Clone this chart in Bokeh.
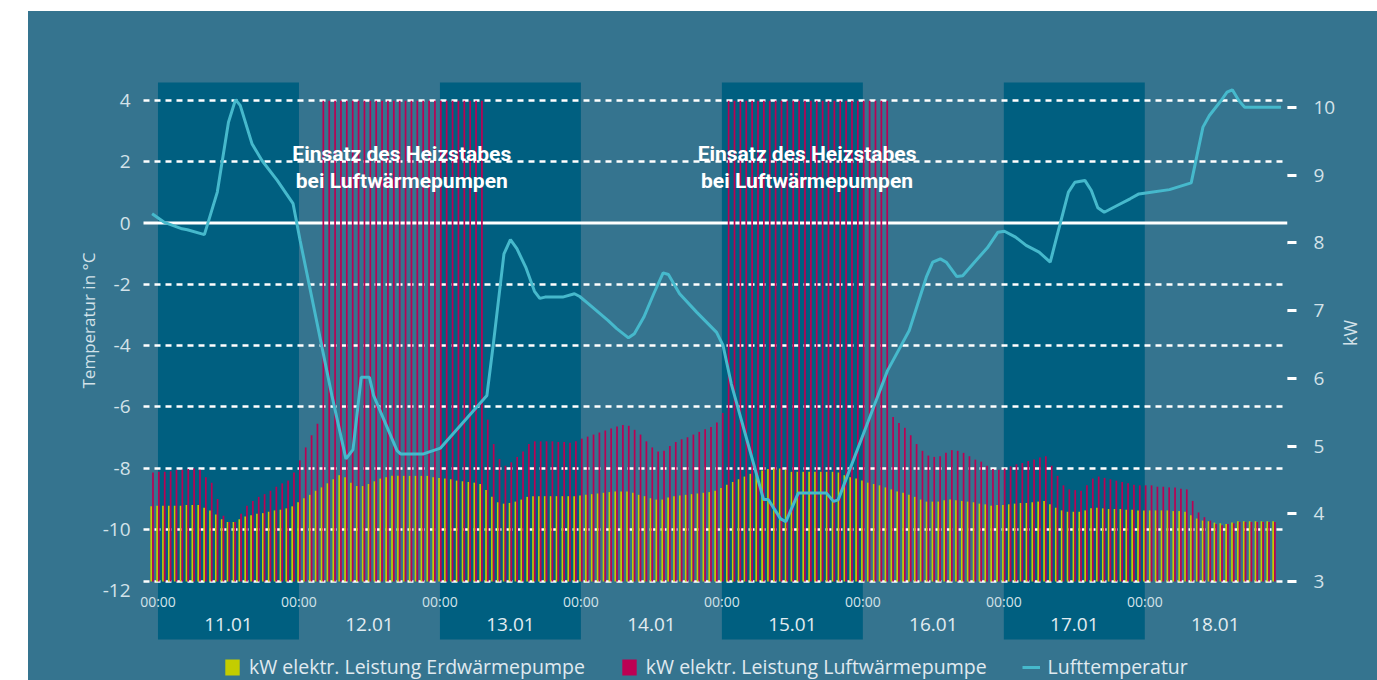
import math
from bokeh.plotting import figure
from bokeh.models import (Range1d, LinearAxis, FixedTicker, LabelSet, Title,
                          BoxAnnotation, ColumnDataSource, Legend, LegendItem)
from bokeh.core.properties import value
from bokeh.embed import file_html
from bokeh.resources import INLINE

# ---------------- data ----------------
days = ["11.01", "12.01", "13.01", "14.01", "15.01", "16.01", "17.01", "18.01"]
dark_days = ["11.01", "13.01", "15.01", "17.01"]
midnight_label = "00:00"
temp_ticks = [-12, -10, -8, -6, -4, -2, 0, 2, 4]
kw_ticks = [3, 4, 5, 6, 7, 8, 9, 10]
annotation_lines = ["Einsatz des Heizstabes", "bei Luftwärmepumpen"]

# hourly values, hour 0 = 11.01 00:00 (first bar 10.01 23:00)
hours = list(range(-1, 191))

erd_kw = [
    4.11, 4.12, 4.12, 4.12, 4.12, 4.12, 4.13, 4.13, 4.13,
    4.09, 4.05, 3.99, 3.92, 3.88, 3.88, 3.92, 3.96, 3.98, 4.00, 4.01, 4.03, 4.05, 4.06, 4.08,
    4.11, 4.17, 4.23, 4.28, 4.34, 4.39, 4.45, 4.51, 4.57, 4.54, 4.46, 4.41, 4.41, 4.44, 4.48,
    4.52, 4.54, 4.56, 4.56, 4.56, 4.56, 4.56, 4.56, 4.56,
    4.54, 4.53, 4.52, 4.51, 4.49, 4.48, 4.47, 4.46, 4.44, 4.35, 4.25, 4.17, 4.15, 4.16, 4.18,
    4.21, 4.25, 4.26, 4.26, 4.26, 4.26, 4.26, 4.26, 4.26, 4.26, 4.27, 4.28, 4.29, 4.30, 4.31,
    4.32, 4.33, 4.33, 4.33, 4.31, 4.28, 4.26, 4.23, 4.21, 4.21, 4.24, 4.26, 4.27, 4.28, 4.29, 4.30,
    4.31, 4.32, 4.34, 4.38, 4.43, 4.47, 4.51, 4.55, 4.59, 4.62, 4.64, 4.66, 4.67, 4.67, 4.65,
    4.62, 4.62, 4.62, 4.62, 4.62, 4.62, 4.62, 4.62, 4.61, 4.57, 4.54, 4.52, 4.49, 4.46, 4.44,
    4.42, 4.39, 4.36, 4.33, 4.31, 4.28, 4.25, 4.21, 4.18, 4.18, 4.18, 4.20, 4.21, 4.20, 4.19,
    4.18, 4.17, 4.15, 4.14,
    4.12, 4.13, 4.13, 4.14, 4.15, 4.16, 4.16, 4.17, 4.18, 4.19, 4.14, 4.09, 4.05, 4.03, 4.03,
    4.03, 4.05, 4.08, 4.09, 4.08, 4.07, 4.07, 4.07, 4.06, 4.06, 4.05, 4.05, 4.05, 4.05, 4.05,
    4.05, 4.04, 4.04, 4.03, 3.98, 3.93, 3.90, 3.89, 3.87, 3.86, 3.85, 3.87, 3.89,
    3.89, 3.89, 3.89, 3.89, 3.89, 3.89,
]

luft_kw = [
    4.61, 4.62, 4.62, 4.63, 4.65, 4.65, 4.66, 4.67, 4.65, 4.54, 4.46, 4.22, 3.97, 3.88, 3.88,
    4.00, 4.12, 4.19, 4.25, 4.29, 4.34, 4.40, 4.45, 4.49, 4.61, 4.79, 4.98, 5.16, 5.33,
    10.1, 10.1, 10.1, 10.1, 10.1, 10.1, 10.1, 10.1, 10.1, 10.1, 10.1, 10.1, 10.1, 10.1,
    10.1, 10.1, 10.1, 10.1, 10.1, 10.1, 10.1, 10.1, 10.1, 10.1, 10.1, 10.1, 10.1, 10.1,
    5.39, 5.03, 4.81, 4.71, 4.76, 4.84, 4.92, 5.03, 5.07, 5.07, 5.07, 5.07, 5.06, 5.06, 5.05,
    5.07, 5.11, 5.14, 5.17, 5.20, 5.23, 5.26, 5.29, 5.31, 5.30, 5.24, 5.17, 5.07, 4.98, 4.92,
    4.93, 5.00, 5.06, 5.10, 5.13, 5.17, 5.21, 5.25, 5.28, 5.35, 5.49,
    10.1, 10.1, 10.1, 10.1, 10.1, 10.1, 10.1, 10.1, 10.1, 10.1, 10.1, 10.1, 10.1, 10.1,
    10.1, 10.1, 10.1, 10.1, 10.1, 10.1, 10.1, 10.1, 10.1, 10.1, 10.1, 10.1, 10.1, 10.1,
    5.43, 5.34, 5.27, 5.16, 5.03, 4.93, 4.86, 4.84, 4.85, 4.90, 4.94, 4.93, 4.90, 4.85, 4.80,
    4.77, 4.71, 4.66, 4.65, 4.67, 4.70, 4.73, 4.75, 4.78, 4.80, 4.83, 4.85, 4.71, 4.56, 4.42,
    4.36, 4.35, 4.34, 4.42, 4.52, 4.55, 4.53, 4.51, 4.49, 4.47, 4.45, 4.43, 4.42, 4.42, 4.42,
    4.40, 4.40, 4.39, 4.39, 4.37, 4.36, 4.19, 4.02, 3.95, 3.90, 3.85, 3.83, 3.85, 3.86,
    3.88, 3.88, 3.88, 3.88, 3.88, 3.88, 3.88,
]

temp_hours = [
    -1.0, 1.0, 4.1, 5.0, 7.9, 10.1, 12.0, 13.2, 14.0, 16.0, 17.7, 20.3, 23.0, 24.2,
    29.6, 32.0, 33.2, 34.6, 36.0, 36.7, 40.7, 41.3, 45.2, 48.1, 56.0, 57.1, 58.9, 60.0,
    61.1, 62.6, 64.1, 65.0, 65.9, 68.9, 70.9, 71.8, 73.3, 76.6, 78.1, 80.1, 81.1, 82.7,
    84.4, 86.0, 86.9, 88.8, 91.7, 95.1, 96.2, 97.6, 103.1, 103.9, 106.0, 106.9, 109.0,
    113.8, 115.0, 115.8, 120.9, 124.2, 127.9, 130.8, 131.9, 133.2, 134.2, 136.0, 137.0,
    139.0, 141.2, 143.0, 144.1, 146.0, 147.8, 150.0, 151.9, 153.0, 155.0, 156.1, 157.8,
    158.9, 160.0, 161.1, 163.3, 165.5, 167.0, 168.5, 172.2, 175.9, 177.9, 179.0, 181.0,
    182.0, 182.9, 184.0, 185.0, 191.2,
]
temp_c = [
    0.30, 0.03, -0.19, -0.22, -0.38, 1.01, 3.29, 4.03, 3.84, 2.59, 2.04, 1.39, 0.63, -0.57,
    -5.63, -7.70, -7.40, -5.04, -5.04, -5.63, -7.43, -7.54, -7.54, -7.35, -5.63, -3.94, -1.01, -0.54,
    -0.84, -1.44, -2.23, -2.46, -2.42, -2.42, -2.31, -2.40, -2.64, -3.18, -3.45, -3.75, -3.62, -3.08,
    -2.31, -1.63, -1.68, -2.31, -2.91, -3.57, -4.00, -5.25, -9.03, -9.03, -9.66, -9.75, -8.82,
    -8.82, -9.09, -9.04, -6.48, -4.82, -3.51, -1.77, -1.28, -1.17, -1.28, -1.75, -1.72,
    -1.28, -0.81, -0.30, -0.27, -0.46, -0.73, -0.95, -1.28, -0.46, 1.01, 1.33, 1.39,
    1.06, 0.50, 0.35, 0.57, 0.79, 0.95, 0.99, 1.09, 1.31, 3.13, 3.51, 4.00,
    4.27, 4.35, 4.00, 3.78, 3.78,
]

# ---------------- style ----------------
PANEL = "#35748F"
DARK = "#005F80"
YELLOW = "#C3CD00"
RED = "#BC0053"
CYAN = "#46B9CC"
TEXT = "#D3E2E9"
FONT = "Open Sans"

LEFT, TOP = 28, 11            # page offset of the figure (via margin)
W, H = 1349, 669
FRAME_L, FRAME_R = 137, 1288  # frame edges in page pixels
GRID_L = 143                  # where the horizontal rules begin
PX_PER_H = 5.879
PX_PER_DEG = 30.625
PX_PER_KW = 67.71


def x_at(px):   # page px -> hours
    return (px - 157.5) / PX_PER_H


def t_at(py):   # page px -> temperature axis units
    return 4 - (py - 100) / PX_PER_DEG


def k_at(py):   # page px -> kW axis units
    return 3 + (581 - py) / PX_PER_KW


# the panel colour is the element's own CSS background, so border and frame
# share one seamless fill
p = figure(width=W, height=H, output_backend="svg", toolbar_location=None,
           title=None, x_axis_location=None,
           x_range=Range1d(x_at(FRAME_L), x_at(FRAME_R)),
           y_range=Range1d(t_at(TOP + H), t_at(TOP)),
           min_border_left=FRAME_L - LEFT, min_border_right=LEFT + W - FRAME_R,
           min_border_top=0, min_border_bottom=0,
           background_fill_color=None, border_fill_color=None,
           outline_line_color=None, margin=(TOP, 0, 0, LEFT),
           styles={"background-color": PANEL})
p.extra_y_ranges = {"kw": Range1d(k_at(TOP + H), k_at(TOP))}

# day bands
band_left = [24 * days.index(d) for d in dark_days]
p.quad(left=band_left, right=[b + 24 for b in band_left],
       top=t_at(82), bottom=t_at(639), color=DARK, line_color=None, level="image")

# horizontal rules
x_rule = [x_at(GRID_L), p.x_range.end]
p.xgrid.visible = False
p.ygrid.ticker = FixedTicker(ticks=[t for t in temp_ticks if t not in (0, temp_ticks[0])])
p.ygrid.grid_line_color = "white"
p.ygrid.grid_line_width = 2.6
p.ygrid.grid_line_dash = "6 5"
if "cross_bounds" in p.ygrid[0].properties():
    p.ygrid.cross_bounds = tuple(x_rule)
p.segment(x0=[x_rule[0]], x1=[x_rule[1]], y0=[0], y1=[0], line_color="white",
          line_width=3, level="underlay")
p.segment(x0=[x_rule[0]], x1=[x_rule[1]], y0=[kw_ticks[0]], y1=[kw_ticks[0]],
          y_range_name="kw", line_color="white", line_width=2.6, line_dash="6 5",
          level="underlay")

# left axis
ya = p.yaxis[0]
ya.ticker = FixedTicker(ticks=temp_ticks)
ya.major_label_overrides = {t: str(t) for t in temp_ticks}
ya.axis_line_color = None
ya.major_tick_line_color = None
ya.minor_tick_line_color = None
ya.major_tick_out = 0
ya.major_tick_in = 0
ya.major_label_standoff = max(FRAME_L - 130, 0)
ya.major_label_text_font = FONT
ya.major_label_text_font_size = "19px"
ya.major_label_text_color = TEXT

# right axis
TICK_LEN = 9
ra = LinearAxis(y_range_name="kw", ticker=FixedTicker(ticks=kw_ticks))
ra.major_label_overrides = {k: str(k) for k in kw_ticks}
ra.axis_line_color = None
ra.minor_tick_line_color = None
ra.major_tick_line_color = "white"
ra.major_tick_line_width = 3
ra.major_tick_out = TICK_LEN
ra.major_tick_in = 0
ra.major_label_standoff = 17
ra.major_label_text_font = FONT
ra.major_label_text_font_size = "19px"
ra.major_label_text_color = TEXT
p.add_layout(ra, "right")
# explicit white tick marks just outside the right frame edge
for k in kw_ticks:
    p.add_layout(BoxAnnotation(left=p.x_range.end, right=FRAME_R - FRAME_L + TICK_LEN,
                               right_units="screen", y_range_name="kw",
                               bottom=k - 1.5 / PX_PER_KW, top=k + 1.5 / PX_PER_KW,
                               fill_color="white", fill_alpha=1, line_color=None))

# axis titles
p.add_layout(Title(text="Temperatur in °C", align="left", offset=TOP + H - 388,
                   text_font=FONT, text_font_size="17px", text_font_style="normal",
                   text_color=TEXT, standoff=0), "left")
if "axis_label_orientation" in ra.properties():
    ra.axis_label = "kW"
    ra.axis_label_orientation = math.pi / 2
    ra.axis_label_standoff = 12
    ra.axis_label_text_font = FONT
    ra.axis_label_text_font_size = "18px"
    ra.axis_label_text_font_style = "normal"
    ra.axis_label_text_color = TEXT
else:
    p.add_layout(Title(text="kW", align="left", offset=295 - TOP,
                       text_font=FONT, text_font_size="18px", text_font_style="normal",
                       text_color=TEXT, standoff=12), "right")

# bars
r_erd = p.vbar(x=[h - 0.15 for h in hours], top=erd_kw, bottom=kw_ticks[0], width=0.29,
               y_range_name="kw", fill_color=YELLOW, line_color=None)
r_luft = p.vbar(x=[h + 0.15 for h in hours], top=luft_kw, bottom=kw_ticks[0], width=0.29,
                y_range_name="kw", fill_color=RED, line_color=None)

# time labels
mid_src = ColumnDataSource(dict(x=[24 * i for i in range(len(days))],
                                y=[t_at(606.5)] * len(days),
                                text=[midnight_label] * len(days)))
p.add_layout(LabelSet(x="x", y="y", text="text", source=mid_src,
                      text_font=value(FONT), text_font_size="14px", text_color=TEXT,
                      text_align="center", text_baseline="alphabetic"))
day_src = ColumnDataSource(dict(x=[24 * i + 12 for i in range(len(days))],
                                y=[t_at(630.5)] * len(days), text=days))
p.add_layout(LabelSet(x="x", y="y", text="text", source=day_src,
                      text_font=value(FONT), text_font_size="19px", text_color="#E2ECF1",
                      text_align="center", text_baseline="alphabetic"))

# heater annotations, centred on the runs of full-power Luftwärmepumpe hours
runs, start = [], None
for h, v in zip(hours, luft_kw):
    if v > 9 and start is None:
        start = h
    if v <= 9 and start is not None:
        runs.append((start, h - 1))
        start = None
centers = [(a + b) / 2 for a, b in runs]
for line, py in zip(annotation_lines, (153.5, 180.5)):
    p.text(x=centers, y=[t_at(py)] * len(centers), text=[line] * len(centers),
           text_font=value("Roboto"), text_font_style="bold", text_font_size="21px",
           text_color="white", text_align="center", text_baseline="alphabetic")

# temperature line
r_temp = p.line(temp_hours, temp_c, line_color=CYAN, line_width=3)

legend = Legend(items=[
    LegendItem(label="kW elektr. Leistung Erdwärmepumpe", renderers=[r_erd]),
    LegendItem(label="kW elektr. Leistung Luftwärmepumpe", renderers=[r_luft]),
    LegendItem(label="Lufttemperatur", renderers=[r_temp]),
], orientation="horizontal", location=(223 - FRAME_L, 0), border_line_color=None,
    background_fill_alpha=0, padding=0, margin=0, spacing=35, label_standoff=8,
    glyph_width=18, glyph_height=20, label_height=20,
    label_text_font=FONT, label_text_font_size="19.5px", label_text_color="#E0EAF0")
p.add_layout(legend)

open("out.html", "w").write(file_html(p, INLINE))
